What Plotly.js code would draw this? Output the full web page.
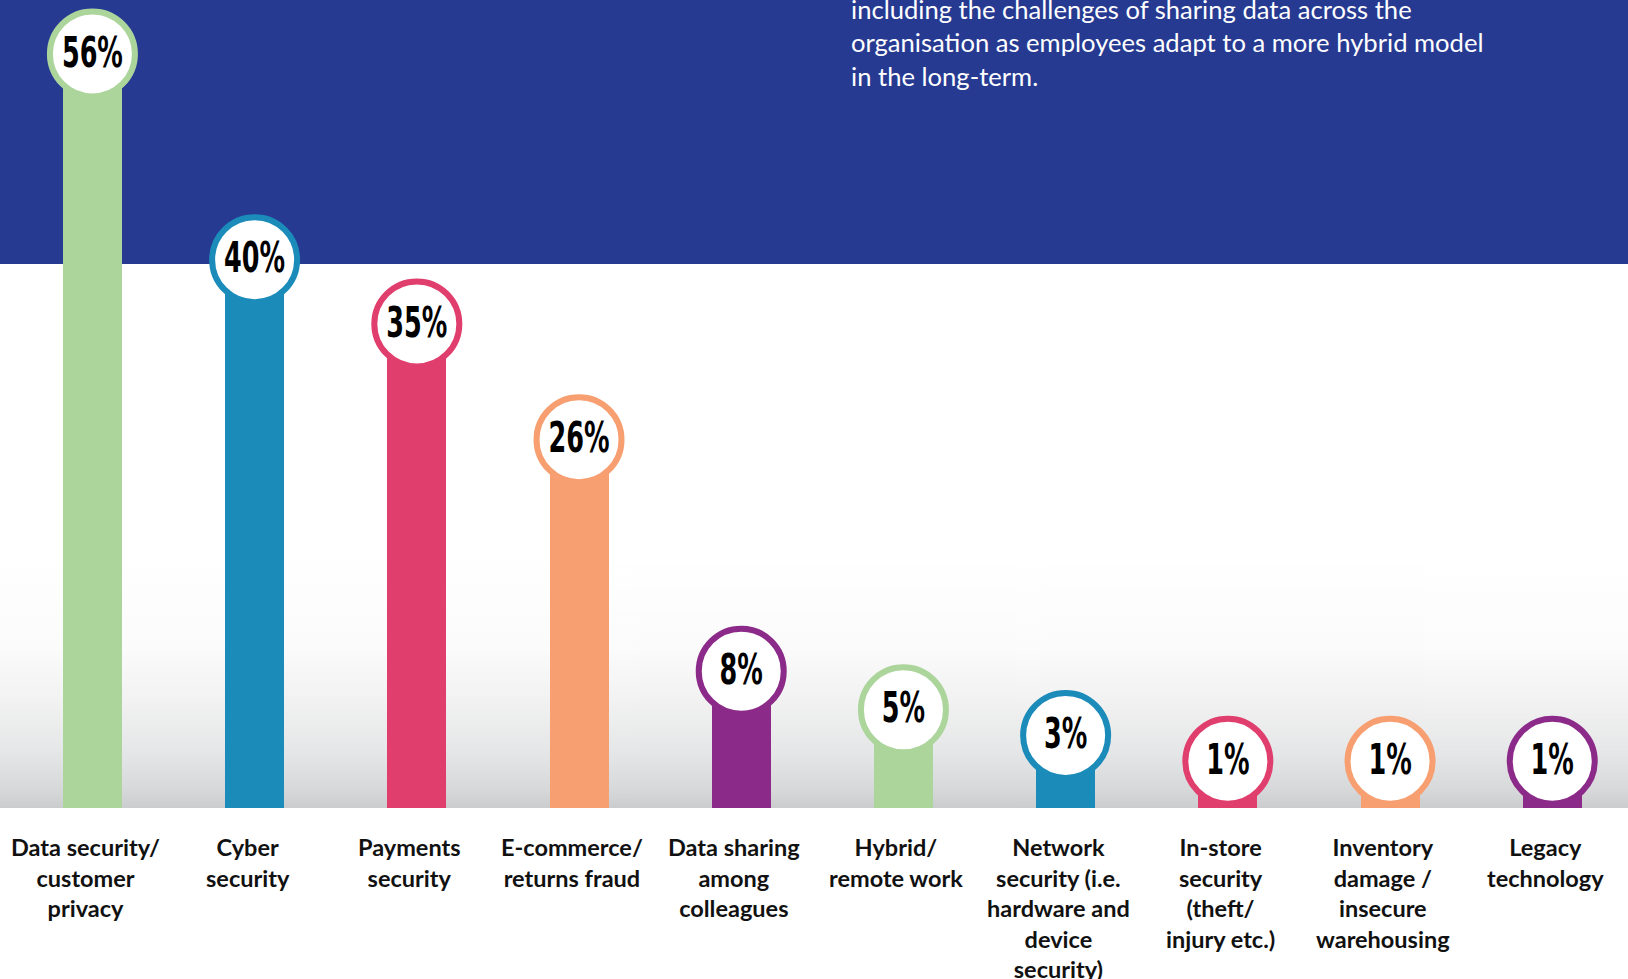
<!DOCTYPE html>
<html>
<head>
<meta charset="utf-8">
<script src="https://cdn.plot.ly/plotly-3.0.1.min.js"></script>
<style>
html,body{margin:0;padding:0;background:#ffffff;}
#chart{width:1628px;height:979px;}
</style>
</head>
<body>
<div id="chart"></div>
<script>
// ---- data ----
const categories = [
  "Data security/<br>customer<br>privacy",
  "Cyber<br>security",
  "Payments<br>security",
  "E-commerce/<br>returns fraud",
  "Data sharing<br>among<br>colleagues",
  "Hybrid/<br>remote work",
  "Network<br>security (i.e.<br>hardware and<br>device<br>security)",
  "In-store<br>security<br>(theft/<br>injury etc.)",
  "Inventory<br>damage /<br>insecure<br>warehousing",
  "Legacy<br>technology"
];
const values = [56, 40, 35, 26, 8, 5, 3, 1, 1, 1];
const valueLabels = ["56%", "40%", "35%", "26%", "8%", "5%", "3%", "1%", "1%", "1%"];
const introText = "including the challenges of sharing data across the<br>organisation as employees adapt to a more hybrid model<br>in the long-term.";

// ---- styling ----
const palette = ["#acd59c", "#1b8bba", "#e03e6d", "#f79f71", "#8c2a89"];
const colors = values.map((v, i) => palette[i % palette.length]);
const W = 1628, H = 979, plotH = 808;
const Y0 = -2.644, Y1 = 60.19;   // axis range (bars start at the bottom of range)
const xKeys = categories.map((c, i) => "c" + i);

// background gradient image
function gradientURL() {
  const cv = document.createElement("canvas");
  cv.width = 4; cv.height = 544;
  const ctx = cv.getContext("2d");
  const g = ctx.createLinearGradient(0, 0, 0, 544);
  g.addColorStop(0, "#ffffff");
  g.addColorStop(0.54, "#ffffff");
  g.addColorStop(0.71, "#fbfbfb");
  g.addColorStop(0.80, "#f2f2f2");
  g.addColorStop(0.893, "#e6e7e8");
  g.addColorStop(0.967, "#d7d8da");
  g.addColorStop(1, "#cbccce");
  ctx.fillStyle = g;
  ctx.fillRect(0, 0, 4, 544);
  return cv.toDataURL("image/png");
}
const bandBottom = (plotH - 264) / plotH;

const bars = {
  type: "bar",
  x: xKeys,
  y: values.map(v => v - Y0),
  base: Y0,
  width: 0.364,
  marker: {color: colors, line: {width: 0}},
  hoverinfo: "skip",
  showlegend: false
};
const bubbles = {
  type: "scatter",
  mode: "markers+text",
  x: xKeys,
  y: values,
  text: valueLabels,
  textposition: "middle center",
  textfont: {family: "DejaVu Sans Condensed, DejaVu Sans, sans-serif", size: 43, color: "#000000", weight: 700},
  marker: {size: 85, color: "#ffffff", line: {color: colors, width: 6}},
  cliponaxis: false,
  hoverinfo: "skip",
  showlegend: false
};

const annotations = categories.map((c, i) => ({
  x: xKeys[i], xref: "x", y: 0, yref: "paper",
  xanchor: "center", yanchor: "top", yshift: -23, xshift: -7,
  text: c, showarrow: false, align: "center",
  font: {family: "Lato, Open Sans, sans-serif", size: 23.5, color: "#111111", weight: 700}
}));
annotations.push({
  x: 849 / W, xref: "paper", y: 1, yref: "paper",
  xanchor: "left", yanchor: "middle", yshift: -42.6,
  text: introText, showarrow: false, align: "left",
  font: {family: "Lato, Open Sans, sans-serif", size: 25.6, color: "#ffffff"}
});

const layout = {
  width: W, height: H,
  margin: {l: 0, r: 0, t: 0, b: H - plotH, pad: 0},
  paper_bgcolor: "#ffffff",
  plot_bgcolor: "rgba(0,0,0,0)",
  showlegend: false,
  bargap: 0,
  xaxis: {type: "category", range: [-0.5697, 9.467], showgrid: false, zeroline: false,
          showticklabels: false, ticks: "", showline: false, fixedrange: true},
  yaxis: {range: [Y0, Y1], showgrid: false, zeroline: false, showticklabels: false,
          ticks: "", showline: false, fixedrange: true},
  shapes: [{type: "rect", xref: "paper", yref: "paper", x0: 0, x1: 1, y0: bandBottom, y1: 1.05,
            fillcolor: "#263a92", line: {width: 0}, layer: "below"}],
  images: [{source: gradientURL(), xref: "paper", yref: "paper", x: 0, y: bandBottom,
            sizex: 1, sizey: bandBottom, xanchor: "left", yanchor: "top",
            sizing: "stretch", layer: "below"}],
  annotations: annotations
};

Plotly.newPlot("chart", [bars, bubbles], layout, {displayModeBar: false, staticPlot: true}).then(() => {
  // narrow the percentage labels to mimic the condensed display face
  const texts = document.querySelectorAll(".scatterlayer .textpoint text");
  let ref = null;
  texts.forEach(t => { if (t.textContent === valueLabels[0]) ref = t.getComputedTextLength(); });
  const k = ref ? 61 / ref : 0.7;
  texts.forEach(t => {
    const len = t.getComputedTextLength();
    t.setAttribute("textLength", (len * k).toFixed(1));
    t.setAttribute("lengthAdjust", "spacingAndGlyphs");
    t.setAttribute("transform", "translate(0,2)");
  });
});
</script>
</body>
</html>
